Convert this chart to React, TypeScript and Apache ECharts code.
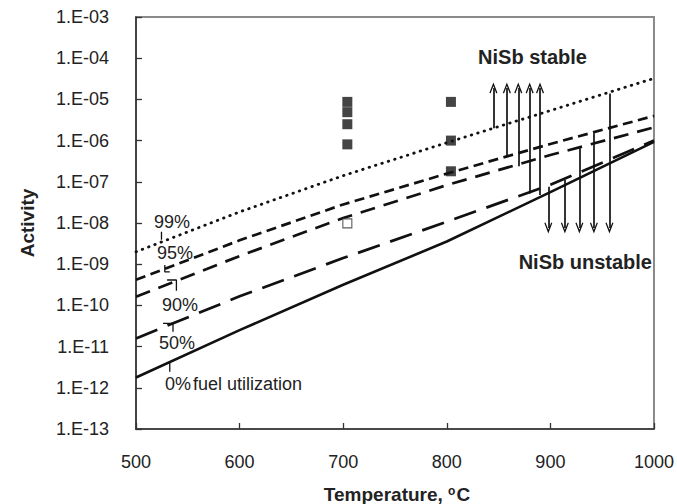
import React, { useEffect, useRef } from 'react';
import * as echarts from 'echarts';

const FONT = "'Liberation Sans', Arial, Helvetica, sans-serif";
const INK = '#111';
const TEXT = '#222';

// Temperatures (°C) at which the fuel-utilization curves are read
const temperatures = [500, 600, 700, 800, 900, 1000];
// Activity curves for each fuel utilization
const util0 = [1.78e-12, 2.51e-11, 3.16e-10, 3.55e-9, 5.62e-8, 9.33e-7];
const util50 = [1.58e-11, 1.66e-10, 1.41e-9, 1.07e-8, 8.5e-8, 1.0e-6];
const util90 = [1.62e-10, 1.58e-9, 1.32e-8, 8.3e-8, 4.47e-7, 2.09e-6];
const util95 = [4.17e-10, 3.8e-9, 2.82e-8, 1.58e-7, 8.3e-7, 3.98e-6];
const util99 = [2.0e-9, 1.86e-8, 1.41e-7, 8.9e-7, 5.37e-6, 3.24e-5];

// Experimental points
const filledT = [704, 704, 704, 704, 804, 804, 804];
const filledA = [8.7e-6, 4.9e-6, 2.5e-6, 8.1e-7, 8.7e-6, 1.0e-6, 1.8e-7];
const openT = [704];
const openA = [9.8e-9];

// Arrows (NiSb stable: up, NiSb unstable: down)
const upT = [845, 858, 869, 880, 890];
const upFrom = [2.0e-6, 4.1e-7, 2.4e-7, 5.2e-8, 4.8e-8];
const upTo = [1.9e-5, 1.9e-5, 1.9e-5, 1.9e-5, 1.9e-5];
const downT = [898, 914, 928, 942, 957];
const downFrom = [7.6e-8, 1.1e-7, 6.5e-7, 1.5e-6, 1.4e-5];
const downTo = [7.6e-9, 7.6e-9, 7.6e-9, 7.6e-9, 7.6e-9];

// Leader lines from the percent labels to their curves
const leader99 = [[524.6, 6.15e-9], [524.6, 3.9e-9]];
const leader95 = [[527.8, 9.5e-10], [527.8, 6.5e-10], [532.6, 6.5e-10]];
const leader90 = [[530, 4.14e-10], [539, 4.14e-10], [539, 2.28e-10]];
const leader50 = [[526.1, 3.68e-11], [535.7, 3.68e-11], [535.7, 2.3e-11]];
const leader0 = [[532.6, 4.3e-12], [532.6, 2.45e-12]];

const xTicks = [500, 600, 700, 800, 900, 1000];

const CHEVRON = 'path://M5,0 L10,12 L8.6,12.7 L5,4.2 L1.4,12.7 L0,12 Z';

function pair(xs: number[], ys: number[]) {
  return xs.map((x, i) => [x, ys[i]]);
}

function curve(name: string, ys: number[], type: any, width: number, cap = 'butt') {
  return {
    type: 'line',
    name,
    data: pair(temperatures, ys),
    symbol: 'none',
    silent: true,
    z: 3,
    lineStyle: { color: INK, width, type, cap },
  };
}

function leader(data: number[][]) {
  return {
    type: 'line',
    data,
    symbol: 'none',
    silent: true,
    z: 4,
    lineStyle: { color: INK, width: 1.3 },
  };
}

function fmtY(v: number) {
  const e = Math.round(Math.log10(v));
  const s = String(Math.abs(e)).padStart(2, '0');
  return '1.E' + (e < 0 ? '-' : '+') + s;
}

export default function App() {
  const ref = useRef<HTMLDivElement>(null);
  useEffect(() => {
    if (!ref.current) return;
    const chart = echarts.init(ref.current, undefined, { renderer: 'svg' });
    const arrowLines: any[] = [];
    upT.forEach((t, i) => {
      arrowLines.push([{ coord: [t, upFrom[i]] }, { coord: [t, upTo[i]] }]);
    });
    downT.forEach((t, i) => {
      arrowLines.push([{ coord: [t, downFrom[i]] }, { coord: [t, downTo[i]] }]);
    });

    const option: any = {
      animation: false,
      textStyle: { fontFamily: FONT },
      grid: {
        left: 136,
        top: 17,
        width: 522,
        height: 412,
        show: true,
        borderColor: '#8a8a8a',
        borderWidth: 2,
        backgroundColor: 'transparent',
      },
      xAxis: {
        type: 'value',
        min: xTicks[0],
        max: xTicks[xTicks.length - 1],
        interval: 100,
        axisLine: { show: true, onZero: false, lineStyle: { color: '#333', width: 1.6 } },
        axisTick: { show: true, inside: true, length: 6, lineStyle: { color: '#333', width: 1.3 } },
        splitLine: { show: false },
        axisLabel: { color: TEXT, fontSize: 18, fontFamily: FONT, margin: 24, formatter: (v: number) => String(v) },
      },
      yAxis: {
        type: 'log',
        logBase: 10,
        min: 1e-13,
        max: 1e-3,
        interval: 1,
        splitNumber: 10,
        axisLine: { show: true, lineStyle: { color: '#333', width: 1.6 } },
        axisTick: { show: true, inside: true, length: 6, lineStyle: { color: '#333', width: 1.3 } },
        minorTick: { show: false },
        splitLine: { show: false },
        axisLabel: { color: TEXT, fontSize: 18, fontFamily: FONT, margin: 27, formatter: fmtY },
      },
      series: [
        {
          ...curve('0%', util0, 'solid', 2.6),
          markLine: {
            silent: true,
            symbol: ['none', CHEVRON],
            symbolSize: [8, 11],
            label: { show: false },
            emphasis: { disabled: true },
            lineStyle: { color: INK, width: 1.7, type: 'solid' },
            data: arrowLines,
          },
        },
        curve('50%', util50, [23, 11], 2.7),
        curve('90%', util90, [15, 9], 2.7),
        curve('95%', util95, [10, 5.5], 2.7),
        curve('99%', util99, [0.5, 6.2], 2.8, 'round'),
        leader(leader99),
        leader(leader95),
        leader(leader90),
        leader(leader50),
        leader(leader0),
        {
          type: 'scatter',
          data: pair(filledT, filledA),
          symbol: 'rect',
          symbolSize: 10,
          silent: true,
          z: 5,
          itemStyle: { color: '#151515' },
        },
        {
          type: 'scatter',
          data: pair(openT, openA),
          symbol: 'rect',
          symbolSize: 9,
          silent: true,
          z: 5,
          itemStyle: { color: '#fff', borderColor: '#333', borderWidth: 1.1 },
        },
      ],
      graphic: [
        {
          type: 'text',
          x: 27,
          y: 223,
          rotation: Math.PI / 2,
          style: {
            text: 'Activity',
            fontSize: 19,
            fontWeight: 'bold',
            fontFamily: FONT,
            fill: TEXT,
            align: 'center',
            verticalAlign: 'middle',
          },
        },
        {
          type: 'text',
          x: 397,
          y: 494,
          style: {
            text: 'Temperature, {sup|o}C',
            fontSize: 19,
            fontWeight: 'bold',
            fontFamily: FONT,
            fill: TEXT,
            align: 'center',
            verticalAlign: 'middle',
            rich: {
              sup: { fontSize: 12, fontWeight: 'bold', fontFamily: FONT, fill: TEXT, verticalAlign: 'top', padding: [0, 1, 6, 0] },
            },
          },
        },
        {
          type: 'text',
          x: 587,
          y: 57,
          style: { text: 'NiSb stable', fontSize: 20, fontWeight: 'bold', fontFamily: FONT, fill: TEXT, align: 'right', verticalAlign: 'middle' },
        },
        {
          type: 'text',
          x: 652,
          y: 262,
          style: { text: 'NiSb unstable', fontSize: 20, fontWeight: 'bold', fontFamily: FONT, fill: TEXT, align: 'right', verticalAlign: 'middle' },
        },
        { type: 'text', x: 172, y: 222, style: { text: '99%', fontSize: 18, fontFamily: FONT, fill: TEXT, align: 'center', verticalAlign: 'middle' } },
        { type: 'text', x: 175, y: 253, style: { text: '95%', fontSize: 18, fontFamily: FONT, fill: TEXT, align: 'center', verticalAlign: 'middle' } },
        { type: 'text', x: 180, y: 305, style: { text: '90%', fontSize: 18, fontFamily: FONT, fill: TEXT, align: 'center', verticalAlign: 'middle' } },
        { type: 'text', x: 177, y: 343, style: { text: '50%', fontSize: 18, fontFamily: FONT, fill: TEXT, align: 'center', verticalAlign: 'middle' } },
        { type: 'text', x: 165, y: 384, style: { text: '0%', fontSize: 18, fontFamily: FONT, fill: TEXT, align: 'left', verticalAlign: 'middle' } },
        { type: 'text', x: 193, y: 384, style: { text: 'fuel utilization', fontSize: 18, fontFamily: FONT, fill: TEXT, align: 'left', verticalAlign: 'middle' } },
      ],
    };
    chart.setOption(option);
    return () => chart.dispose();
  }, []);
  return <div ref={ref} style={{ position: 'absolute', left: 0, top: 0, width: 677, height: 504 }} />;
}
